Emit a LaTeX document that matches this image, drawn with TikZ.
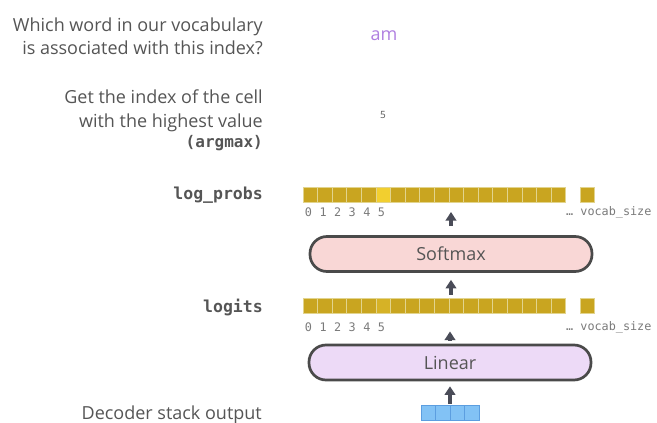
\documentclass[tikz,border=0pt]{standalone}
\usepackage{fontspec}
\setmainfont{Open Sans}
\newfontfamily\monofont{DejaVu Sans Mono}
\usetikzlibrary{arrows.meta}
\definecolor{txt}{HTML}{555555}
\definecolor{gold}{HTML}{C9A520}
\definecolor{goldhi}{HTML}{F2CF2F}
\definecolor{goldmid}{HTML}{D6B226}
\definecolor{cellline}{HTML}{E2D48E}
\definecolor{bluecell}{HTML}{82C2F5}
\definecolor{blueline}{HTML}{5C9EE0}
\definecolor{pinkfill}{HTML}{F9D7D6}
\definecolor{lilac}{HTML}{EDDAF7}
\definecolor{boxline}{HTML}{4A4A4A}
\definecolor{arrowc}{HTML}{4A4C58}
\definecolor{amc}{HTML}{B07FE0}
\definecolor{idxc}{HTML}{7A7A7A}
\begin{document}
\begin{tikzpicture}[x=1pt,y=-1pt,
  lbl/.style={text=txt, font=\fontsize{18}{23}\selectfont, inner sep=0pt, align=right},
  monolbl/.style={text=txt, font=\monofont\bfseries\fontsize{16.5}{20}\selectfont, inner sep=0pt},
  idx/.style={text=idxc, font=\monofont\fontsize{11.8}{13}\selectfont, inner sep=0pt},
  cell/.style={draw=cellline, line width=0.7pt, fill=gold, minimum width=14.6pt, minimum height=15pt, inner sep=0pt, outer sep=0pt},
  bcell/.style={draw=blueline, line width=0.8pt, fill=bluecell, minimum width=14.6pt, minimum height=15pt, inner sep=0pt, outer sep=0pt},
  pill/.style={draw=boxline, line width=2.7pt, rounded corners=17pt, minimum width=282pt, minimum height=35pt, inner sep=0pt, font=\fontsize{18}{20}\selectfont, text=txt},
  arr/.style={draw=arrowc, line width=3.2pt, -{Triangle[length=8.5pt,width=10.5pt]}}
]
\useasboundingbox (0,0) rectangle (657,423);

% top texts
\node[lbl, anchor=east] (q1) at (263,36) {Which word in our vocabulary\\is associated with this index?};
\node[lbl, anchor=east, font=\fontsize{18}{24}\selectfont] (q2) at (263,111) {Get the index of the cell\\with the highest value};
\node[monolbl, anchor=east, font=\monofont\bfseries\fontsize{16}{18}\selectfont] (argmax) at (263,143) {(argmax)};
\node[text=amc, font=\fontsize{18}{20}\selectfont, inner sep=0pt] (am) at (384,36) {am};
\node[text=txt, font=\fontsize{10}{12}\selectfont, inner sep=0pt] (five) at (383,115) {5};

% log_probs row
\node[monolbl, anchor=east] (lplbl) at (263,195) {log\_probs};
\foreach \i in {0,...,17}{
  \ifnum\i=5 \def\cf{goldhi}\else\def\cf{gold}\fi
  \node[cell, fill=\cf] (lp\i) at ({310.3+14.6*\i},194.5) {};
}
\node[cell] (lpN) at (587.5,194.5) {};
\foreach \i in {0,...,5}{
  \node[idx] (lpi\i) at ({308.5+14.6*\i},212) {\i};
}
\node[idx, anchor=west] (lpvs) at (566,212) {… vocab\_size};

% softmax
\node[pill, fill=pinkfill] (softmax) at (451,254) {Softmax};

% logits row
\node[monolbl, anchor=east] (lglbl) at (263,307) {logits};
\foreach \i in {0,...,17}{
  \ifnum\i=5 \def\cf{goldmid}\else\def\cf{gold}\fi
  \node[cell, fill=\cf] (lg\i) at ({310.3+14.6*\i},306) {};
}
\node[cell] (lgN) at (587.5,306) {};
\foreach \i in {0,...,5}{
  \node[idx] (lgi\i) at ({308.5+14.6*\i},327) {\i};
}
\node[idx, anchor=west] (lgvs) at (566,327) {… vocab\_size};

% linear
\node[pill, fill=lilac] (linear) at (450,362.5) {Linear};

% decoder output
\node[lbl, anchor=east] (declbl) at (262,415) {Decoder stack output};
\foreach \i in {0,...,3}{
  \node[bcell] (d\i) at ({428.3+14.6*\i},413) {};
}

% arrows
\draw[arr, shorten <=9pt, shorten >=10pt] (softmax.north) -- (softmax.north |- lp0.south);
\draw[arr, shorten <=4pt, shorten >=7pt] (softmax.south |- lg0.north) -- (softmax.south);
\draw[arr, shorten <=3pt, shorten >=18pt] (linear.north) -- (linear.north |- lg0.south);
\draw[arr, shorten <=2pt, shorten >=5pt] (linear.south |- d0.north) -- (linear.south);
\end{tikzpicture}
\end{document}
